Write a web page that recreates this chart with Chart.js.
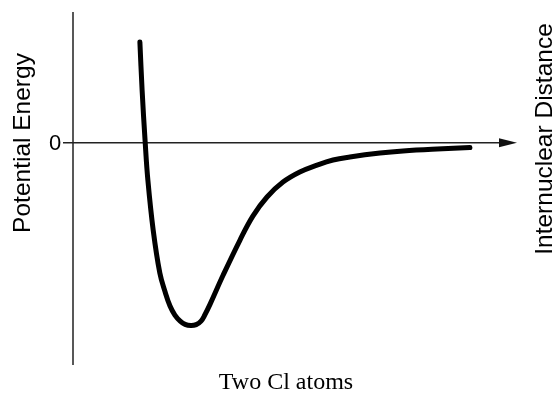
<!DOCTYPE html>
<html>
<head>
<meta charset="utf-8">
<script src="https://cdn.jsdelivr.net/npm/chart.js@4/dist/chart.umd.min.js"></script>
<style>
  html, body { margin: 0; padding: 0; background: #fff; }
  #wrap { position: relative; width: 556px; height: 394px; }
</style>
</head>
<body>
<div id="wrap"><canvas id="chart"></canvas></div>
<script>
// internuclear distance (arbitrary units) and potential energy for the Cl–Cl curve
const distance = [1.51, 1.56, 1.63, 1.69, 1.81, 1.96, 2.08, 2.19, 2.30, 2.42, 2.53, 2.66, 2.78, 2.89, 2.98, 3.09, 3.39, 3.77, 4.06, 4.38, 4.74, 5.12, 5.51, 5.87, 6.25, 6.93, 7.45, 8.22, 8.96];
const energy = [7.7, 4.03, 0, -2.85, -6.68, -9.97, -11.42, -12.49, -13.18, -13.64, -13.89, -13.98, -13.91, -13.64, -13.14, -12.38, -10.12, -7.44, -5.61, -4.15, -3.01, -2.24, -1.71, -1.32, -1.09, -0.79, -0.63, -0.48, -0.37];
const yTicks = [0];
const yTitle = 'Potential Energy';
const xTitle = 'Internuclear Distance';
const caption = 'Two Cl atoms';

const sans = '"Liberation Sans", Arial, sans-serif';

// axes with arrow head, the zero tick and the titles
const axesPlugin = {
  id: 'axes',
  beforeDatasetsDraw(chart) {
    const { ctx, chartArea: a, scales } = chart;
    const y0 = scales.y.getPixelForValue(0);
    ctx.save();
    ctx.strokeStyle = '#222';
    ctx.lineWidth = 1.5;
    ctx.beginPath();
    ctx.moveTo(a.left, a.top);
    ctx.lineTo(a.left, a.bottom);
    ctx.moveTo(a.left - 10, y0);
    ctx.lineTo(a.right - 16, y0);
    ctx.stroke();
    ctx.fillStyle = '#111';
    ctx.beginPath();
    ctx.moveTo(a.right + 1, y0);
    ctx.lineTo(a.right - 17, y0 - 4.5);
    ctx.lineTo(a.right - 17, y0 + 4.5);
    ctx.closePath();
    ctx.fill();

    ctx.fillStyle = '#000';
    ctx.textAlign = 'center';
    ctx.textBaseline = 'middle';
    ctx.font = '22px ' + sans;
    yTicks.forEach(v => {
      ctx.fillText(String(v), a.left - 18, scales.y.getPixelForValue(v) + 1);
    });

    ctx.font = '24.5px ' + sans;
    ctx.save();
    ctx.translate(23, 143);
    ctx.rotate(-Math.PI / 2);
    ctx.fillText(yTitle, 0, 0);
    ctx.restore();

    ctx.save();
    ctx.translate(545, 139);
    ctx.rotate(-Math.PI / 2);
    ctx.fillText(xTitle, 0, 0);
    ctx.restore();

    ctx.font = '24px "Liberation Serif", "Times New Roman", serif';
    ctx.textBaseline = 'alphabetic';
    ctx.fillText(caption, 286, 389);
    ctx.restore();
  }
};

new Chart(document.getElementById('chart'), {
  type: 'line',
  data: {
    datasets: [{
      data: distance.map((x, i) => ({ x, y: energy[i] })),
      borderColor: '#000',
      borderWidth: 5,
      borderCapStyle: 'round',
      borderJoinStyle: 'round',
      pointRadius: 0,
      tension: 0.4,
      fill: false
    }]
  },
  options: {
    responsive: true,
    maintainAspectRatio: false,
    animation: false,
    layout: { padding: { left: 73, right: 40, top: 12, bottom: 29 } },
    plugins: { legend: { display: false }, tooltip: { enabled: false } },
    scales: {
      x: { type: 'linear', min: 0, max: 10, display: false },
      y: { type: 'linear', min: -17, max: 10, display: false }
    }
  },
  plugins: [axesPlugin]
});
</script>
</body>
</html>
